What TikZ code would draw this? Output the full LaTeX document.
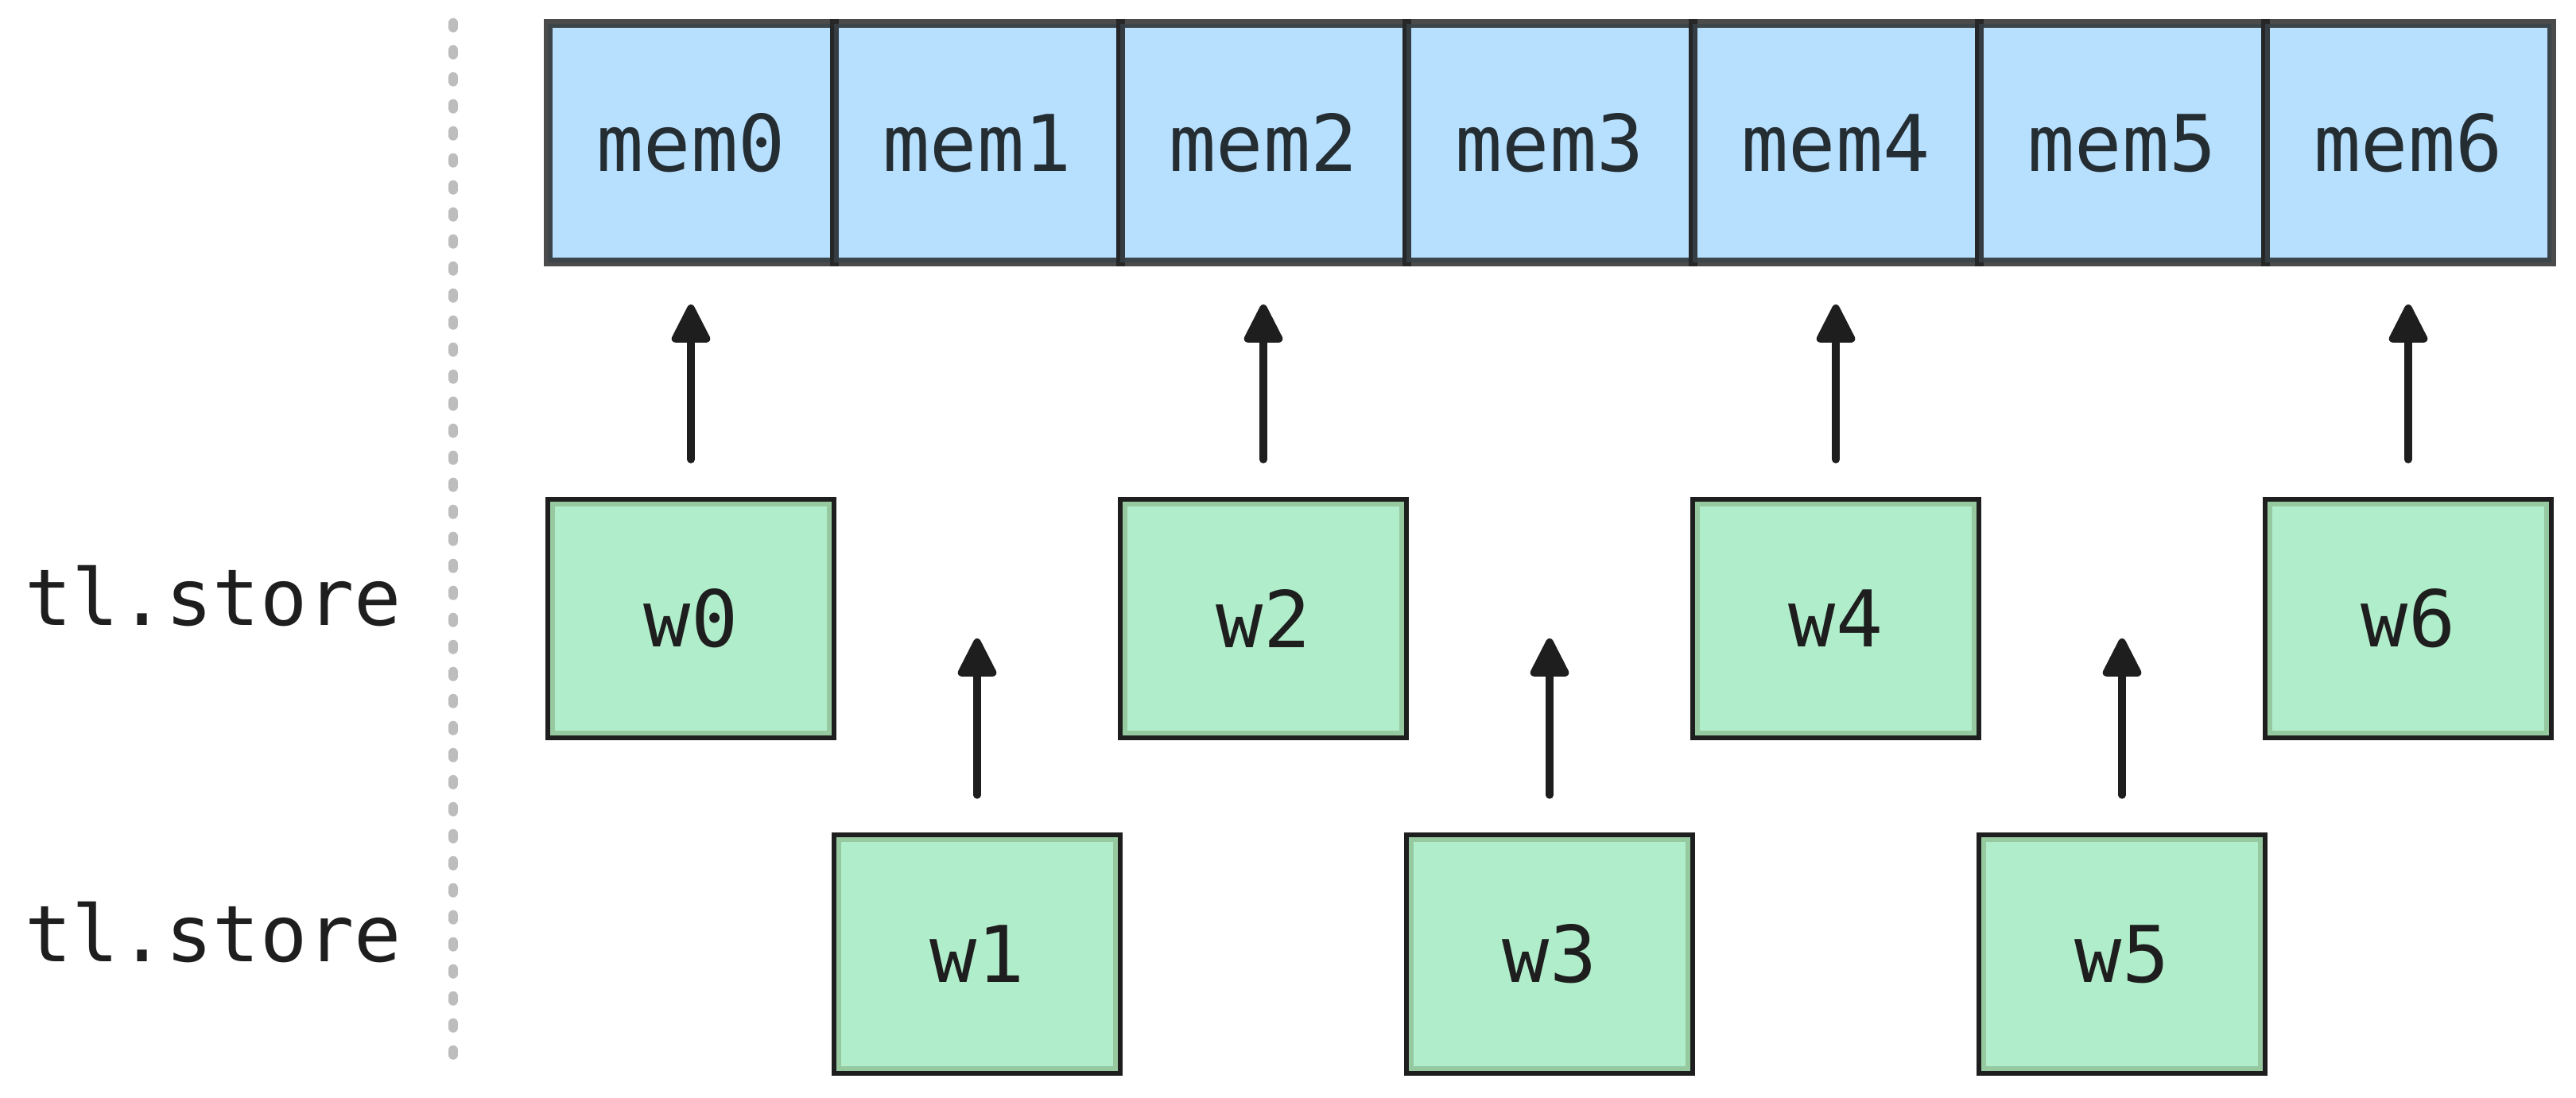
\documentclass[tikz,border=0pt]{standalone}
\usepackage{fontspec}
\setmonofont{DejaVu Sans Mono}
\usetikzlibrary{
    arrows.meta,
    chains,
    positioning,
}
\definecolor{MyInk}{HTML}{1E1E1E}
\definecolor{MyBlue}{HTML}{A5D8FF}
\definecolor{MyGreen}{HTML}{B0EDCA}
\definecolor{MyRing}{HTML}{97C9A0}
\definecolor{MyGray}{HTML}{BDBDBD}
\newcommand{\boxfont}{\ttfamily\fontsize{28}{34}\selectfont}
\tikzset{
    >={Triangle[width=5.2mm,length=5.4mm,round]}
}

\begin{document}
\begin{tikzpicture}[
    cell/.style={on chain,draw=MyInk,fill=MyBlue,opacity=.8,line width=1.1mm,minimum width=36mm,minimum height=30mm,outer sep=0pt,inner sep=0pt,font=\boxfont},
    wbox/.style={draw=MyInk,fill=MyGreen,line width=.65mm,minimum width=36mm,minimum height=30mm,outer sep=0pt,inner sep=0pt,text=MyInk,font=\boxfont,
        path picture={\draw[MyRing,line width=1.8mm] (path picture bounding box.south west) rectangle (path picture bounding box.north east);}},
    arr/.style={->,MyInk,line width=.95mm,line cap=round,shorten <=5mm,shorten >=5.3mm},
    lane/.style={anchor=base,inner sep=0pt,text=MyInk,font=\boxfont},
    node distance=0pt
    ]
    \useasboundingbox (0,0) rectangle (32.4,13.8);

    % memory row
    \begin{scope}[start chain=going right,shift={(8.69,12)}]
        \foreach \i in {0,...,6}
            \node[cell] (mem\i) {mem\i};
    \end{scope}

    % stores, even ones on the first row, odd ones on the second
    \foreach \i in {0,2,4,6}
        \node[wbox,below=29.8mm of mem\i] (w\i) {w\i};
    \foreach \i in {1,3,5}
        \node[wbox,below=72mm of mem\i] (w\i) {w\i};

    \foreach \i in {0,2,4,6}
        \draw[arr] (w\i) -- (mem\i);
    \foreach \i in {1,3,5} {
        \coordinate[above=30mm of w\i.north] (t\i);
        \draw[arr] (w\i) -- (t\i);
    }

    % separator and row labels
    \draw[MyGray,line width=1.25mm,line cap=round,dash pattern=on .55mm off 2.85mm] (5.7,13.51) -- (5.7,.53);
    \node[lane] (lane1) at (2.68,5.93) {tl.store};
    \node[lane] (lane2) at (2.68,1.71) {tl.store};
\end{tikzpicture}
\end{document}
